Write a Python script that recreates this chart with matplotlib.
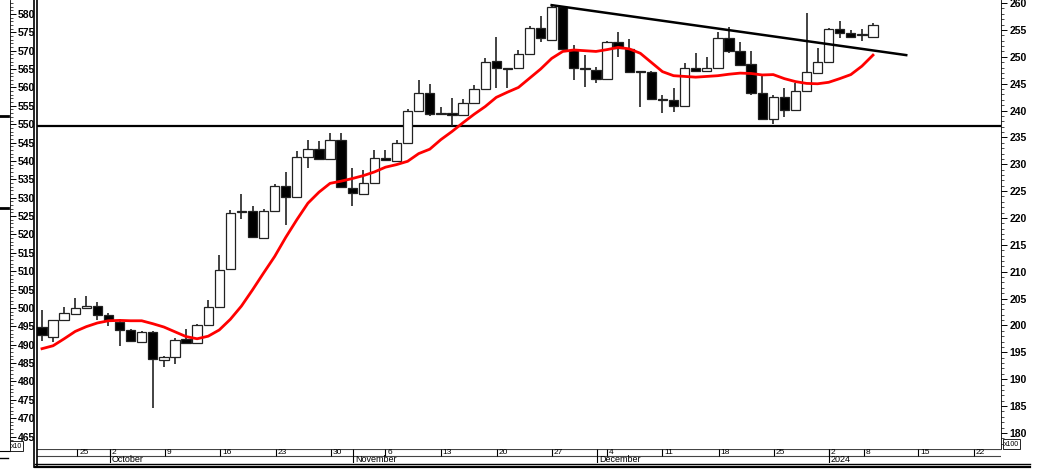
import matplotlib
matplotlib.use("Agg")
import matplotlib.pyplot as plt
from matplotlib.patches import Rectangle
from matplotlib.lines import Line2D
from matplotlib.ticker import MultipleLocator
import numpy as np

plt.rcParams['font.family'] = ['Liberation Sans', 'DejaVu Sans']

# daily candles, left scale (x10)
opens = [494.7, 492.2, 496.6, 498.4, 499.9, 500.5, 498.1, 496.3, 494.0, 490.8,
         493.4, 485.9, 486.6, 491.5, 490.4, 495.4, 500.2, 510.5, 526.0, 526.5,
         519.0, 526.5, 533.2, 530.1, 541.2, 543.2, 540.5, 545.7, 532.7, 531.0,
         533.9, 540.7, 540.1, 545.0, 553.7, 558.4, 552.7, 553.1, 552.5, 555.9,
         559.5, 567.2, 565.2, 565.2, 569.1, 576.1, 572.9, 581.8, 570.2, 565.2,
         564.8, 562.2, 572.5, 570.4, 564.4, 564.3, 556.8, 556.6, 555.0, 565.2,
         564.5, 565.2, 573.4, 569.8, 566.4, 558.4, 551.3, 557.3, 553.9, 559.1,
         564.0, 567.0, 575.9, 574.7, 574.2, 573.7]
highs = [499.3, 496.8, 500.2, 502.6, 503.3, 501.5, 498.7, 496.9, 494.2, 493.8,
         493.6, 486.9, 491.8, 494.2, 495.6, 502.2, 514.5, 526.7, 531.0, 527.8,
         527.0, 533.7, 537.1, 542.8, 545.7, 545.3, 547.5, 547.7, 538.0, 537.6,
         543.0, 543.0, 545.7, 554.0, 561.9, 561.0, 554.8, 557.1, 556.8, 560.7,
         567.9, 573.7, 565.4, 570.2, 576.7, 579.5, 582.4, 582.2, 571.6, 568.8,
         565.7, 572.7, 575.2, 573.1, 564.5, 564.5, 558.0, 559.8, 566.6, 569.5,
         568.2, 575.2, 576.4, 572.5, 569.8, 563.4, 558.0, 559.8, 561.1, 580.2,
         570.7, 576.1, 578.2, 575.5, 575.8, 577.6]
lows = [491.0, 490.8, 496.4, 498.2, 499.8, 496.7, 495.1, 489.7, 490.6, 490.7,
        472.7, 483.9, 484.8, 490.2, 490.2, 495.2, 500.0, 510.3, 524.3, 518.9,
        518.8, 526.3, 522.6, 530.0, 538.0, 540.4, 540.4, 532.6, 527.6, 530.9,
        533.8, 540.0, 540.0, 544.9, 553.6, 552.2, 552.6, 549.5, 552.4, 555.8,
        559.4, 559.8, 559.8, 565.0, 569.0, 572.5, 572.8, 570.2, 562.0, 560.2,
        561.1, 562.1, 568.4, 564.0, 554.8, 556.6, 553.0, 553.4, 554.9, 564.4,
        564.4, 565.1, 569.5, 566.0, 558.0, 551.2, 550.1, 551.9, 553.8, 559.0,
        563.9, 566.9, 573.4, 573.4, 572.7, 573.6]
closes = [492.5, 496.6, 498.6, 499.9, 500.5, 498.1, 496.6, 494.0, 491.0, 493.4,
          486.0, 486.6, 491.3, 490.4, 495.4, 500.2, 510.4, 525.8, 526.5, 519.2,
          526.5, 533.2, 530.3, 541.2, 543.2, 540.5, 545.7, 532.8, 531.2, 533.9,
          540.7, 540.2, 545.0, 553.7, 558.4, 552.8, 553.1, 552.4, 555.9, 559.5,
          567.0, 565.2, 565.0, 569.1, 576.1, 573.4, 581.8, 570.4, 565.2, 564.9,
          562.3, 572.5, 570.7, 564.3, 564.2, 556.8, 556.5, 555.0, 565.2, 564.6,
          565.4, 573.4, 569.8, 566.1, 558.6, 551.3, 557.3, 553.9, 559.1, 564.3,
          567.0, 575.9, 574.7, 573.8, 574.3, 577.0]
moving_avg = [488.9, 489.7, 491.6, 493.6, 494.9, 495.9, 496.5, 496.6, 496.5, 496.5,
              495.7, 494.8, 493.5, 492.2, 491.6, 492.3, 494.0, 496.9, 500.5, 504.9,
              509.5, 514.0, 519.2, 524.0, 528.5, 531.5, 533.9, 534.5, 535.2, 536.0,
              537.0, 538.3, 539.0, 539.9, 542.0, 543.2, 545.8, 548.0, 550.4, 552.7,
              554.8, 557.3, 558.7, 560.0, 562.5, 565.0, 567.9, 569.8, 570.2, 570.0,
              569.8, 570.3, 570.9, 570.5, 569.3, 566.8, 564.3, 563.2, 563.0, 562.8,
              563.0, 563.2, 563.6, 563.9, 563.8, 563.4, 563.5, 562.4, 561.6, 561.1,
              561.0, 561.4, 562.4, 563.5, 565.8, 568.8]

support_level = 549.5
trend_x = [46, 78]
trend_y = [582.4, 568.8]

day_labels = ["25", "2", "9", "16", "23", "30", "6", "13", "20", "27",
              "4", "11", "18", "25", "2", "8", "15", "22"]
day_pos = [3.2, 6.1, 11.1, 16.1, 21.1, 26.1, 31.0, 36.0, 41.1, 46.0,
           51.0, 56.0, 61.1, 66.1, 71.0, 74.2, 79.1, 84.1]
month_labels = ["October", "November", "December", "2024"]
month_pos = [6.1, 28.1, 50.1, 71.0]

W, H = 1047, 469
fig = plt.figure(figsize=(W / 100, H / 100), dpi=100)

x0, x1 = 37, 1001
xlim = (-0.45, -0.45 + (x1 - x0) / 11.08)
ylim_left = (461.6, 583.8)
ylim_right = (177.02, 260.56)

ax = fig.add_axes([x0 / W, 1 - 449 / H, (x1 - x0) / W, 449 / H])
ax.set_xlim(*xlim)
ax.set_ylim(*ylim_left)
for s in ax.spines.values():
    s.set_visible(False)
ax.set_xticks([])
ax.set_yticks([])

ax.axhline(support_level, color='black', lw=1.6, zorder=1)

for i in range(len(opens)):
    o, h, l, c = opens[i], highs[i], lows[i], closes[i]
    ax.vlines(i, l, h, color='#222222', lw=1.2, zorder=2)
    up = c >= o
    bottom = min(o, c)
    height = max(abs(c - o), 0.25)
    ax.add_patch(Rectangle((i - 0.42, bottom), 0.84, height,
                           facecolor='white' if up else 'black',
                           edgecolor='#222222', lw=0.9, zorder=3))

ax.plot(range(len(moving_avg)), moving_avg, color='#ff0000', lw=2.0, zorder=4)
ax.plot(trend_x, trend_y, color='black', lw=1.8, zorder=4)

# right scale (x100)
axr = ax.twinx()
axr.set_ylim(*ylim_right)
for k, s in axr.spines.items():
    s.set_visible(k == 'right')
axr.spines['right'].set_linewidth(0.6)
axr.yaxis.set_major_locator(MultipleLocator(5))
axr.yaxis.set_minor_locator(MultipleLocator(1))
axr.tick_params(axis='y', which='major', length=4, width=0.7, pad=2, labelsize=7.5)
axr.tick_params(axis='y', which='minor', length=2, width=0.5)
axr.set_yticks(np.arange(180, 261, 5))
for t in axr.get_yticklabels():
    t.set_fontweight('bold')

# left scale (x10), drawn in the side strip
axl = fig.add_axes([0, 1 - 449 / H, 10 / W, 449 / H])
axl.set_ylim(*ylim_left)
axl.patch.set_visible(False)
for k, s in axl.spines.items():
    s.set_visible(k == 'right')
axl.spines['right'].set_linewidth(0.6)
axl.set_xticks([])
axl.yaxis.tick_right()
axl.set_yticks(np.arange(465, 581, 5))
axl.yaxis.set_minor_locator(MultipleLocator(1))
axl.tick_params(axis='y', which='major', length=4, width=0.7, pad=1.5, labelsize=7.5)
axl.tick_params(axis='y', which='minor', length=2, width=0.5)
for t in axl.get_yticklabels():
    t.set_fontweight('bold')

# date strip
axd = fig.add_axes([x0 / W, 1 - 463 / H, (x1 - x0) / W, 14 / H])
axd.set_xlim(*xlim)
axd.set_ylim(0, 2)
axd.axis('off')
axd.axhline(2, color='#444444', lw=0.8)
axd.axhline(1, color='#444444', lw=0.8)
for lab, p in zip(day_labels, day_pos):
    axd.vlines(p, 1, 2, color='black', lw=0.8)
    axd.text(p + 0.15, 1.45, lab, fontsize=6, va='center', ha='left')
for lab, p in zip(month_labels, month_pos):
    axd.vlines(p, 0, 2, color='black', lw=0.8)
    axd.text(p + 0.15, 0.45, lab, fontsize=6.5, va='center', ha='left')


def fig_line(xs, ys, lw):
    fig.add_artist(Line2D([x / W for x in xs], [1 - y / H for y in ys],
                          color='black', lw=lw))


fig_line([34, 34], [0, 467], 1.2)
fig_line([37, 37], [0, 467], 1.2)
fig_line([35, 1030], [464, 464], 1.0)
fig_line([35, 1030], [466.5, 466.5], 1.6)
fig_line([0, 8], [116, 116], 2.0)
fig_line([0, 8], [208, 208], 2.0)
fig_line([0, 10], [451, 451], 0.8)
fig_line([0, 8], [458, 458], 1.0)

fig.text(11 / W, 1 - 446 / H, "x10", fontsize=5, va='center', ha='left',
         bbox=dict(boxstyle='square,pad=0.15', fc='white', ec='black', lw=0.6))
fig.text(1004 / W, 1 - 444 / H, "x100", fontsize=5, va='center', ha='left',
         bbox=dict(boxstyle='square,pad=0.15', fc='white', ec='black', lw=0.6))

fig.savefig("out.png", dpi=100)
